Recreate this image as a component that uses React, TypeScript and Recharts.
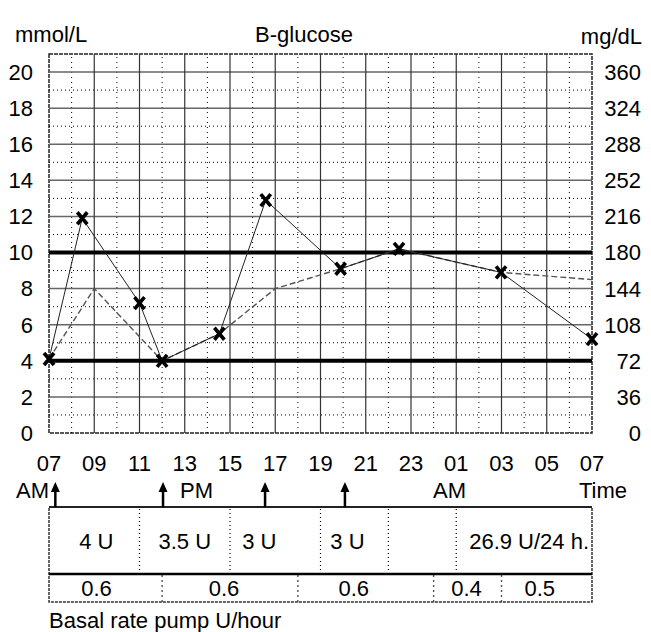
import {
  ComposedChart,
  Line,
  LineChart,
  ReferenceArea,
  ReferenceDot,
  ReferenceLine,
  XAxis,
  YAxis,
} from 'recharts'

const FONT = '"Liberation Sans", Arial, Helvetica, sans-serif'
const FS = 22

// time axis: hours after 07:00 AM
const hourTicks = [0, 2, 4, 6, 8, 10, 12, 14, 16, 18, 20, 22, 24]
const hourLabels = ['07', '09', '11', '13', '15', '17', '19', '21', '23', '01', '03', '05', '07']
const oddHours = [1, 3, 5, 7, 9, 11, 13, 15, 17, 19, 21, 23]

const mmolTicks = [0, 2, 4, 6, 8, 10, 12, 14, 16, 18, 20]
const mmolMinor = [1, 3, 5, 7, 9, 11, 13, 15, 17, 19]
const mgTicks = [0, 36, 72, 108, 144, 180, 216, 252, 288, 324, 360]
const targetRange = [4, 10]

// measured B-glucose (x marks, solid line)
const readingHours = [0, 1.47, 4, 5, 7.53, 9.58, 12.89, 15.47, 19.98, 24]
const readingMmol = [4.1, 11.9, 7.2, 4.0, 5.5, 12.9, 9.1, 10.2, 8.9, 5.2]

// dashed comparison curve
const trendHours = [0, 2, 5, 7.53, 10, 12.89, 15.47, 19.98, 24]
const trendMmol = [4.1, 8.0, 4.0, 5.5, 8.0, 9.1, 10.2, 8.9, 8.5]

// bolus doses (arrows) and the dose table
const bolusTimes = [0.28, 5.04, 9.55, 13.08]
const bolusEdges = [0, 4, 8, 12, 15, 18, 24]
const bolusLabels = ['4 U', '3.5 U', '3 U', '3 U', '', '26.9 U/24 h.']
const basalEdges = [0, 5, 11, 17, 20, 24]
const basalRates = ['0.6', '0.6', '0.6', '0.4', '0.5']

// text nudges inside the table cells (px)
const bolusLabelDx = [2, 0, -16, -7, 0, 5]
const basalLabelDx = [-9, -6, -12, -1, -7]

const allHours = Array.from(new Set([...readingHours, ...trendHours])).sort((a, b) => a - b)
const chartData = allHours.map((h) => {
  const ri = readingHours.indexOf(h)
  const ti = trendHours.indexOf(h)
  return {
    hour: h,
    reading: ri >= 0 ? readingMmol[ri] : null,
    trend: ti >= 0 ? trendMmol[ti] : null,
    // same readings in mg/dL, keeps the right axis alive
    readingMg: ri >= 0 ? readingMmol[ri] * 18 : null,
  }
})

const tableData = [
  { hour: 0, row: 0 },
  { hour: 24, row: 4.3 },
]

const XMark = (props: any) => {
  const { cx, cy, payload, index } = props
  if (cx == null || cy == null || payload?.reading == null) return <g key={`x-${index}`} />
  return (
    <path
      key={`x-${index}`}
      d={`M${cx - 5},${cy - 6}L${cx + 5},${cy + 6}M${cx + 5},${cy - 6}L${cx - 5},${cy + 6}`}
      stroke="#000"
      strokeWidth={3.6}
      fill="none"
    />
  )
}

const MgTick = (props: any) => {
  const { x, y, payload } = props
  return (
    <text x={x + 49} y={y} dy="0.36em" textAnchor="end" fontSize={FS} fontFamily={FONT} fill="#000">
      {payload.value}
    </text>
  )
}

const cellLabel = (text: string, dx: number) => (p: any) => {
  const vb = p.viewBox
  if (!vb || !text) return null
  return (
    <text
      x={vb.x + vb.width / 2 + dx}
      y={vb.y + vb.height / 2}
      dy="0.36em"
      textAnchor="middle"
      fontSize={FS}
      fontFamily={FONT}
      fill="#000"
    >
      {text}
    </text>
  )
}

const ArrowHead = (p: any) => (
  <path d={`M${p.cx},${p.cy}L${p.cx - 4.5},${p.cy + 10}L${p.cx + 4.5},${p.cy + 10}Z`} fill="#000" />
)

const periodText = (text: string, anchor: 'start' | 'middle' | 'end', dx: number) => (p: any) => (
  <text x={p.cx + dx} y={p.cy} dy="0.36em" textAnchor={anchor} fontSize={FS} fontFamily={FONT} fill="#000">
    {text}
  </text>
)

export default function App() {
  return (
    <div
      style={{
        position: 'absolute',
        left: 0,
        top: 0,
        width: 651,
        height: 632,
        background: '#fff',
        fontFamily: FONT,
      }}
    >
      <div style={{ position: 'absolute', left: 0, top: 0 }}>
        <LineChart width={651} height={480} data={chartData} margin={{ top: 54, right: 0, bottom: 0, left: 0 }}>
          <XAxis
            dataKey="hour"
            type="number"
            domain={[0, 24]}
            ticks={hourTicks}
            tickFormatter={(h: number) => hourLabels[hourTicks.indexOf(h)]}
            axisLine={false}
            tickLine={false}
            tickSize={0}
            tickMargin={22}
            height={47}
            tick={{ fill: '#000', fontSize: FS, fontFamily: FONT }}
            interval={0}
          />
          <YAxis
            type="number"
            domain={[0, 21]}
            ticks={mmolTicks}
            axisLine={false}
            tickLine={false}
            tickSize={0}
            tickMargin={16}
            width={49}
            tick={{ fill: '#000', fontSize: FS, fontFamily: FONT }}
            interval={0}
          />
          <YAxis
            yAxisId="mg"
            orientation="right"
            type="number"
            domain={[0, 378]}
            ticks={mgTicks}
            axisLine={false}
            tickLine={false}
            tickSize={0}
            tickMargin={0}
            width={59}
            tick={MgTick}
            interval={0}
          />

          {mmolMinor.map((v) => (
            <ReferenceLine key={`hm${v}`} y={v} stroke="#000" strokeWidth={1} strokeDasharray="1 3" />
          ))}
          {oddHours.map((h) => (
            <ReferenceLine key={`vm${h}`} x={h} stroke="#000" strokeWidth={1} strokeDasharray="1 4" />
          ))}
          {mmolTicks
            .filter((v) => v > 0 && !targetRange.includes(v))
            .map((v) => (
              <ReferenceLine key={`h${v}`} y={v} stroke="#666" strokeWidth={1.5} />
            ))}
          {hourTicks
            .filter((h) => h > 0 && h < 24)
            .map((h) => (
              <ReferenceLine key={`v${h}`} x={h} stroke="#333" strokeWidth={1.2} />
            ))}
          {targetRange.map((v) => (
            <ReferenceLine key={`t${v}`} y={v} stroke="#000" strokeWidth={4} />
          ))}
          <ReferenceArea
            x1={0}
            x2={24}
            y1={0}
            y2={21}
            fill="none"
            stroke="#222"
            strokeWidth={1.5}
            strokeDasharray="4 1"
          />

          <Line
            yAxisId="mg"
            dataKey="readingMg"
            stroke="none"
            dot={false}
            activeDot={false}
            connectNulls
            isAnimationActive={false}
          />
          <Line
            dataKey="trend"
            type="linear"
            stroke="#555"
            strokeWidth={1.4}
            strokeDasharray="6 3"
            dot={false}
            activeDot={false}
            connectNulls
            isAnimationActive={false}
          />
          <Line
            dataKey="reading"
            type="linear"
            stroke="#222"
            strokeWidth={1}
            dot={XMark}
            activeDot={false}
            connectNulls
            isAnimationActive={false}
          />
        </LineChart>
      </div>

      <div style={{ position: 'absolute', left: 0, top: 470 }}>
        <ComposedChart
          width={651}
          height={150}
          data={tableData}
          margin={{ top: 12, right: 59, bottom: 18, left: 49 }}
        >
          <XAxis dataKey="hour" type="number" domain={[0, 24]} hide allowDataOverflow />
          <YAxis type="number" domain={[0, 4.3]} hide allowDataOverflow />
          <Line dataKey="row" stroke="none" dot={false} activeDot={false} isAnimationActive={false} />

          {/* bolus row */}
          {bolusLabels.map((t, i) => (
            <ReferenceArea
              key={`b${i}`}
              x1={bolusEdges[i]}
              x2={bolusEdges[i + 1]}
              y1={1}
              y2={3.4}
              fill="#fff"
              fillOpacity={1}
              stroke="none"
              label={cellLabel(t, bolusLabelDx[i])}
            />
          ))}
          {/* basal row */}
          {basalRates.map((t, i) => (
            <ReferenceArea
              key={`r${i}`}
              x1={basalEdges[i]}
              x2={basalEdges[i + 1]}
              y1={0}
              y2={1}
              fill="#fff"
              fillOpacity={1}
              stroke="none"
              label={cellLabel(t, basalLabelDx[i])}
            />
          ))}
          {bolusEdges.slice(1, -1).map((h) => (
            <ReferenceLine
              key={`bd${h}`}
              segment={[
                { x: h, y: 1 },
                { x: h, y: 3.4 },
              ]}
              stroke="#000"
              strokeWidth={1.2}
              strokeDasharray="1 3"
            />
          ))}
          {basalEdges.slice(1, -1).map((h) => (
            <ReferenceLine
              key={`rd${h}`}
              segment={[
                { x: h, y: 0 },
                { x: h, y: 1 },
              ]}
              stroke="#555"
              strokeWidth={1.4}
              strokeDasharray="2 3"
            />
          ))}
          <ReferenceArea
            x1={0}
            x2={24}
            y1={0}
            y2={3.4}
            fill="none"
            stroke="#333"
            strokeWidth={1.5}
            strokeDasharray="3 1"
          />
          <ReferenceLine
            segment={[
              { x: 0, y: 1 },
              { x: 24, y: 1 },
            ]}
            stroke="#000"
            strokeWidth={2.5}
          />
          <ReferenceLine
            segment={[
              { x: 0, y: 3.4 },
              { x: 24, y: 3.4 },
            ]}
            stroke="#222"
            strokeWidth={2}
          />

          {/* bolus arrows */}
          {bolusTimes.map((t) => (
            <ReferenceLine
              key={`as${t}`}
              segment={[
                { x: t, y: 3.4 },
                { x: t, y: 4.0 },
              ]}
              stroke="#000"
              strokeWidth={2.5}
            />
          ))}
          {bolusTimes.map((t) => (
            <ReferenceDot key={`ah${t}`} x={t} y={4.3} shape={ArrowHead} />
          ))}

          <ReferenceDot x={0} y={4.0} shape={periodText('AM', 'end', 0)} />
          <ReferenceDot x={5.04} y={4.0} shape={periodText('PM', 'start', 17)} />
          <ReferenceDot x={17.7} y={4.0} shape={periodText('AM', 'middle', 0)} />
          <ReferenceDot x={24} y={4.0} shape={periodText('Time', 'end', 35)} />
        </ComposedChart>
      </div>

      <svg
        width={651}
        height={632}
        style={{ position: 'absolute', left: 0, top: 0, pointerEvents: 'none' }}
        fontFamily={FONT}
        fontSize={FS}
      >
        <text x={15} y={42} fill="#000">
          mmol/L
        </text>
        <text x={304} y={42} textAnchor="middle" fill="#000">
          B-glucose
        </text>
        <text x={642} y={44} textAnchor="end" fill="#000">
          mg/dL
        </text>
        <text x={49} y={628} fill="#000">
          Basal rate pump U/hour
        </text>
      </svg>
    </div>
  )
}
